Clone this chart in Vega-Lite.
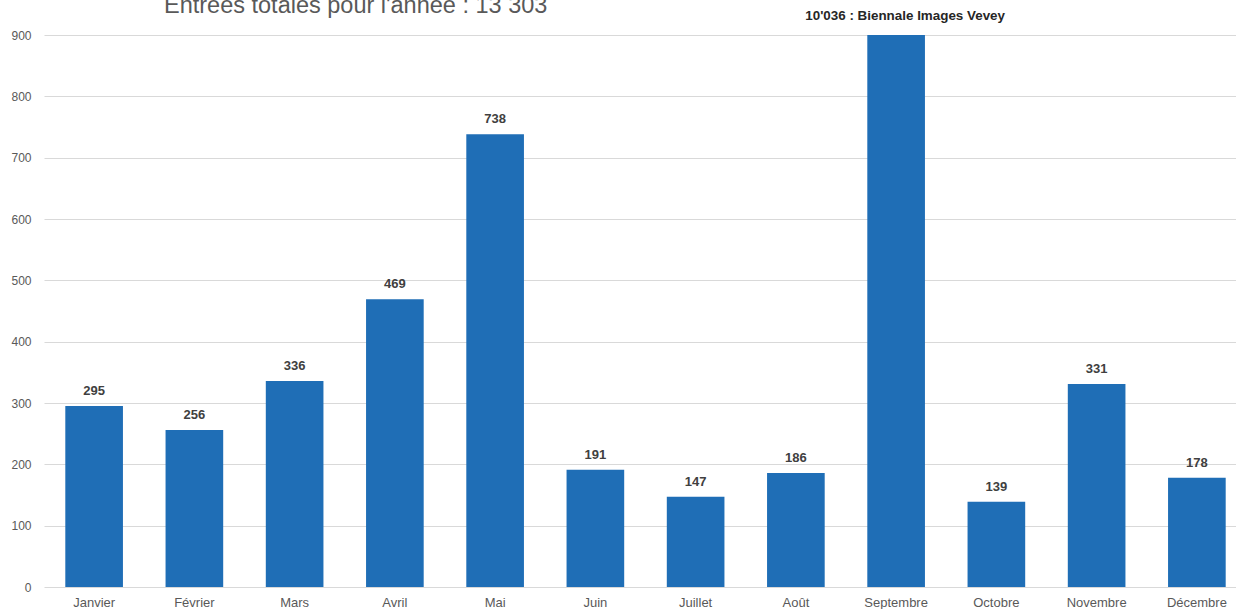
{
  "$schema": "https://vega.github.io/schema/vega-lite/v6.json",
  "width": 1203,
  "height": 552,
  "autosize": {"type": "none"},
  "padding": {"left": 44, "top": 35, "right": 0, "bottom": 22},
  "background": "white",
  "config": {"view": {"stroke": null}, "font": "Liberation Sans"},
  "title": {
    "text": "Entrées totales pour l'année : 13 303",
    "anchor": "start",
    "frame": "group",
    "dx": 120,
    "offset": 0,
    "dy": 28,
    "baseline": "alphabetic",
    "fontSize": 23.5,
    "font": "Liberation Sans",
    "fontWeight": "normal",
    "color": "#595959"
  },
  "data": {
    "values": [
      {"mois": "Janvier", "entrees": 295, "etiquette": "295"},
      {"mois": "Février", "entrees": 256, "etiquette": "256"},
      {"mois": "Mars", "entrees": 336, "etiquette": "336"},
      {"mois": "Avril", "entrees": 469, "etiquette": "469"},
      {"mois": "Mai", "entrees": 738, "etiquette": "738"},
      {"mois": "Juin", "entrees": 191, "etiquette": "191"},
      {"mois": "Juillet", "entrees": 147, "etiquette": "147"},
      {"mois": "Août", "entrees": 186, "etiquette": "186"},
      {"mois": "Septembre", "entrees": 10036, "etiquette": "10'036 : Biennale Images Vevey"},
      {"mois": "Octobre", "entrees": 139, "etiquette": "139"},
      {"mois": "Novembre", "entrees": 331, "etiquette": "331"},
      {"mois": "Décembre", "entrees": 178, "etiquette": "178"}
    ]
  },
  "encoding": {
    "x": {
      "field": "mois",
      "type": "nominal",
      "sort": null,
      "scale": {"paddingInner": 0.425, "paddingOuter": 0.2125},
      "axis": {
        "title": null,
        "labelAngle": 0,
        "ticks": false,
        "domain": false,
        "labelPadding": 9,
        "labelFontSize": 13,
        "labelColor": "#595959",
        "labelFont": "Liberation Sans"
      }
    }
  },
  "layer": [
    {
      "mark": {"type": "bar", "color": "#1f6eb6", "clip": true},
      "encoding": {
        "y": {
          "field": "entrees",
          "type": "quantitative",
          "scale": {"domain": [0, 900], "nice": false},
          "axis": {
            "title": null,
            "values": [0, 100, 200, 300, 400, 500, 600, 700, 800, 900],
            "grid": true,
            "gridColor": "#d9d9d9",
            "domain": false,
            "ticks": false,
            "labelPadding": 13,
            "labelFontSize": 12,
            "labelColor": "#595959",
            "labelFont": "Liberation Sans"
          }
        }
      }
    },
    {
      "transform": [{"filter": "datum.entrees <= 900"}],
      "mark": {"type": "text", "baseline": "bottom", "dy": -8, "fontSize": 13, "fontWeight": "bold", "color": "#404040", "font": "Liberation Sans"},
      "encoding": {
        "y": {"field": "entrees", "type": "quantitative"},
        "text": {"field": "etiquette"}
      }
    },
    {
      "transform": [{"filter": "datum.entrees > 900"}],
      "mark": {"type": "text", "baseline": "alphabetic", "dy": -15.5, "dx": 9, "fontSize": 13.4, "fontWeight": "bold", "color": "#262626", "font": "Liberation Sans"},
      "encoding": {
        "y": {"datum": 900},
        "text": {"field": "etiquette"}
      }
    }
  ]
}
